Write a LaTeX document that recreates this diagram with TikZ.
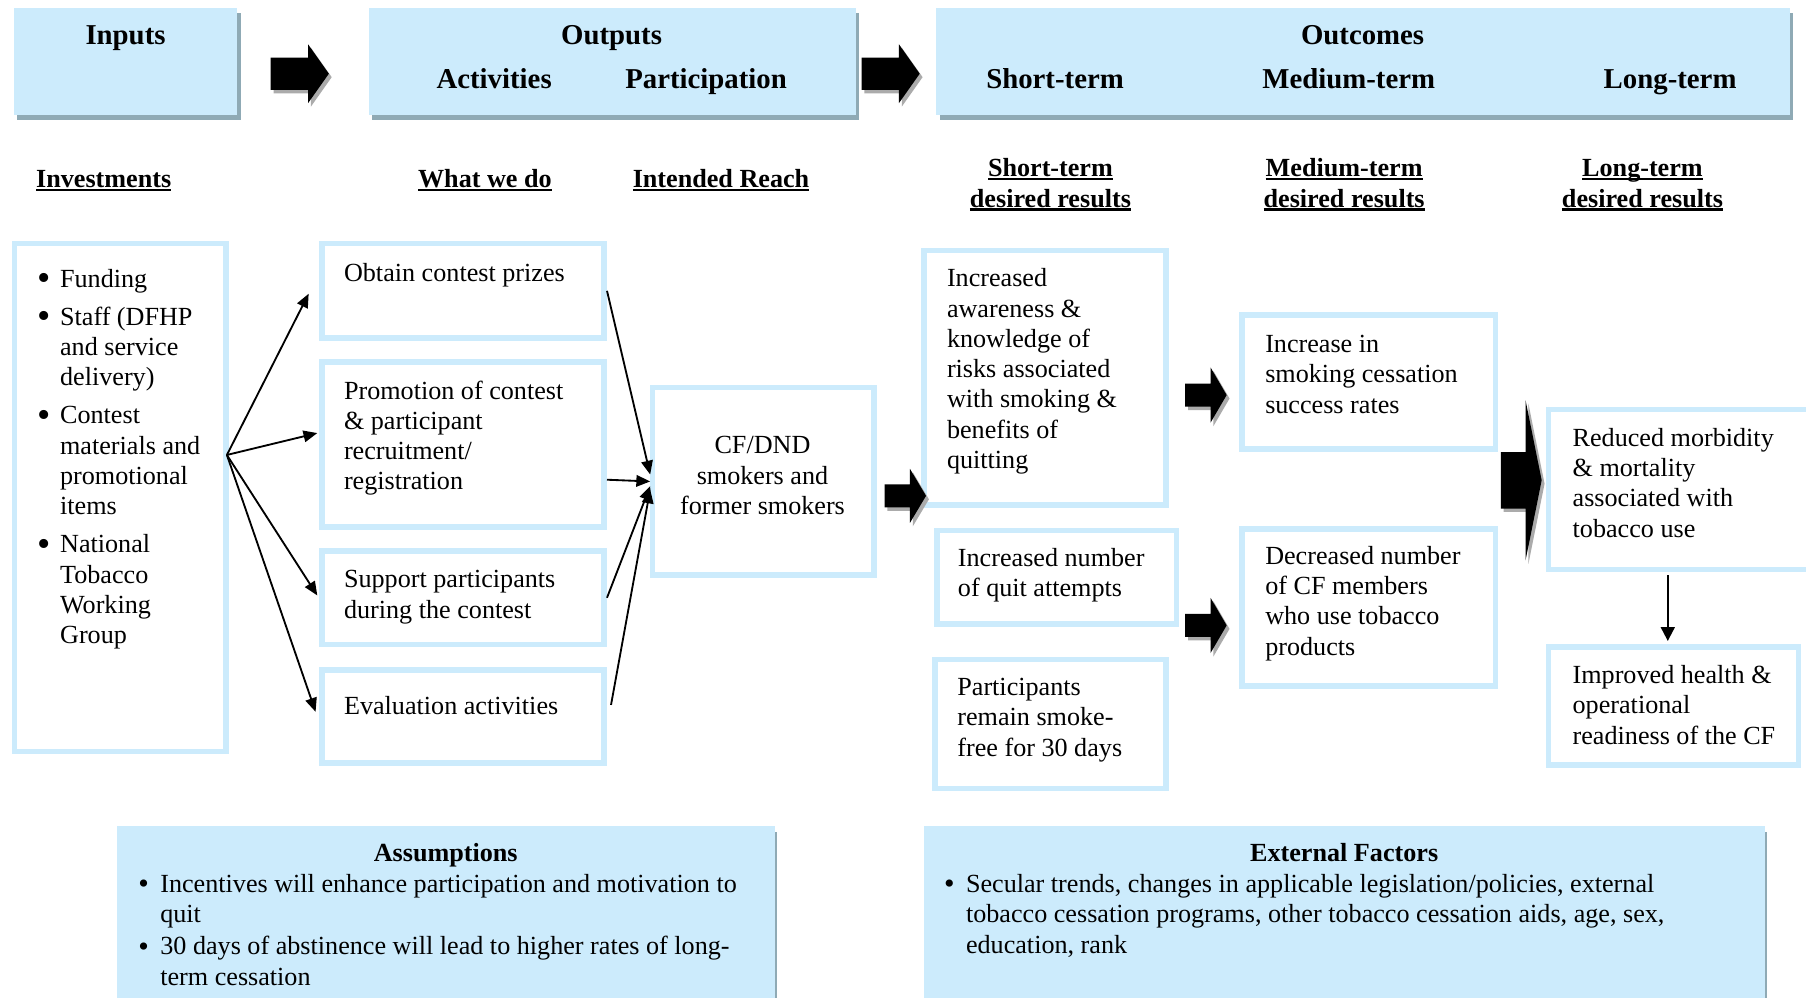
\documentclass[tikz,border=0pt]{standalone}
\usepackage{fontspec}
\setmainfont{Liberation Serif}
\usetikzlibrary{arrows.meta,calc}

\definecolor{paleblue}{HTML}{CCEBFC}
\definecolor{hdrshadow}{HTML}{8FAAB5}
\definecolor{arrowshadow}{HTML}{ABABAB}

\newcommand\bodysize{\fontsize{22.7}{26.3}\selectfont}
\newcommand\headsize{\fontsize{25}{29}\selectfont\bfseries}
% stacked lines, baseline at the first line
\newcommand\rowsl[1]{\begin{tabular}[t]{@{}l@{}}#1\end{tabular}}
\newcommand\rowsc[1]{\begin{tabular}[t]{@{}c@{}}#1\end{tabular}}
% heavy underline for the column headings
\newcommand\ulined[1]{\begingroup\setbox0=\hbox{#1}\rlap{\rule[-3pt]{\wd0}{1.8pt}}\box0\endgroup}
% bullet column: width, scale, lowering
\newcommand\bul[3]{\makebox[#1][l]{\raisebox{#3}{\scalebox{#2}{\textbullet}}}}

% white box with a thick pale-blue frame: name, x1, y1, x2, y2 (outer edges)
\newcommand\whitebox[5]{\node[wbox,minimum width={#4-#2-5},minimum height={#5-#3-5}] (#1) at ({(#2+#4)/2},{(#3+#5)/2}) {};}
% pale-blue filled box with offset shadow: name, x1, y1, x2, y2, dx, dy
\newcommand\bluebox[7]{%
  \fill[hdrshadow] ({#2+#6},{#3+#7}) rectangle ({#4+#6},{#5+#7});
  \node[headerbox,minimum width={#4-#2},minimum height={#5-#3}] (#1) at ({(#2+#4)/2},{(#3+#5)/2}) {};}
% black block arrow: tail x, centre y, head base x, tip x, half shaft, half head
\newcommand\blockarrow[6]{%
  \fill[arrowshadow,shift={(2.5,3)}] (#1,{#2-#5}) -- (#3,{#2-#5}) -- (#3,{#2-#6}) -- (#4,#2)
     -- (#3,{#2+#6}) -- (#3,{#2+#5}) -- (#1,{#2+#5}) -- cycle;
  \fill[black] (#1,{#2-#5}) -- (#3,{#2-#5}) -- (#3,{#2-#6}) -- (#4,#2)
     -- (#3,{#2+#6}) -- (#3,{#2+#5}) -- (#1,{#2+#5}) -- cycle;}

\begin{document}
\begin{tikzpicture}[x=1pt,y=-1pt,
  wbox/.style={draw=paleblue,line width=5pt,fill=white,inner sep=0pt},
  headerbox/.style={fill=paleblue,inner sep=0pt},
  txt/.style={inner sep=0pt,anchor=base west,font=\bodysize},
  ctxt/.style={inner sep=0pt,anchor=base,font=\bodysize},
  htxt/.style={inner sep=0pt,anchor=base,font=\headsize},
  subt/.style={inner sep=0pt,anchor=base,font=\bodysize\bfseries},
  conn/.style={line width=1.6pt,-{Triangle[length=12pt,width=10pt]}},
  downconn/.style={line width=1.7pt,-{Triangle[length=12pt,width=12pt]}},
]
\useasboundingbox (0,0) rectangle (1568,866);
\clip (0,0) rectangle (1568,866);
\fill[white] (0,0) rectangle (1568,866);

% ---------- header bar ----------
\bluebox{inputsh}{12}{7}{206}{100}{3}{4}
\bluebox{outputsh}{320}{7}{743}{100}{3}{4}
\bluebox{outcomesh}{813}{7}{1554}{100}{3}{4}

\node[htxt] (inputs-lbl) at (109,39) {Inputs};
\node[htxt] (outputs-lbl) at (531,39) {Outputs};
\node[htxt] (activities-lbl) at (429,76.5) {Activities};
\node[htxt] (participation-lbl) at (613,76.5) {Participation};
\node[htxt] (outcomes-lbl) at (1183,39) {Outcomes};
\node[htxt] (short-lbl) at (916,76.5) {Short-term};
\node[htxt] (medium-lbl) at (1171,76.5) {Medium-term};
\node[htxt] (long-lbl) at (1450,76.5) {Long-term};

\blockarrow{235}{64}{267.5}{285.5}{14}{25.5}
\blockarrow{748}{64}{780.5}{798.5}{14}{25.5}

% ---------- column headings ----------
\node[subt] (invest-h) at (90,163) {\ulined{Investments}};
\node[subt] (whatwedo-h) at (421,163) {\ulined{What we do}};
\node[subt] (reach-h) at (626,163) {\ulined{Intended Reach}};
\node[subt] (short-h) at (912,153.5) {\rowsc{\ulined{Short-term}\\\ulined{desired results}}};
\node[subt] (medium-h) at (1167,153.5) {\rowsc{\ulined{Medium-term}\\\ulined{desired results}}};
\node[subt] (long-h) at (1426,153.5) {\rowsc{\ulined{Long-term}\\\ulined{desired results}}};

% ---------- boxes ----------
\whitebox{inputs}{10}{209}{199}{655}
\whitebox{prizes}{277}{209}{527}{296}
\whitebox{promo}{277}{312}{527}{460}
\whitebox{support}{277}{476}{527}{562}
\whitebox{eval}{277}{579}{527}{665}
\whitebox{cf}{564}{334}{761}{502}
\whitebox{aware}{800}{215}{1015}{441}
\whitebox{quit}{811}{458}{1024}{544}
\whitebox{partic}{809}{570}{1015}{687}
\whitebox{increase}{1076}{271}{1301}{392}
\whitebox{decreased}{1076}{457}{1301}{598}
\whitebox{reduced}{1342}{353}{1576}{497}
\whitebox{improved}{1342}{559}{1564}{667}

% ---------- box texts ----------
\node[txt] (inputs-t) at (32.2,249.5) {\begin{tabular}[t]{@{}l@{}l@{}}
\bul{19.8pt}{1.45}{-3pt} & Funding\\[6.7pt]
\bul{19.8pt}{1.45}{-3pt} & Staff (DFHP\\
 & and service\\
 & delivery)\\[6.7pt]
\bul{19.8pt}{1.45}{-3pt} & Contest\\
 & materials and\\
 & promotional\\
 & items\\[6.7pt]
\bul{19.8pt}{1.45}{-3pt} & National\\
 & Tobacco\\
 & Working\\
 & Group
\end{tabular}};

\node[txt] (prizes-t) at (298.5,244.5) {Obtain contest prizes};
\node[txt] (promo-t) at (298.5,346.5) {\rowsl{Promotion of contest\\\& participant\\recruitment/\\registration}};
\node[txt] (support-t) at (298.5,510.5) {\rowsl{Support participants\\during the contest}};
\node[txt] (eval-t) at (298.5,620.5) {Evaluation activities};
\node[ctxt] (cf-t) at (662,394) {\rowsc{CF/DND\\smokers and\\former smokers}};
\node[txt] (aware-t) at (822,249) {\rowsl{Increased\\awareness \&\\knowledge of\\risks associated\\with smoking \&\\benefits of\\quitting}};
\node[txt] (quit-t) at (831.5,492) {\rowsl{Increased number\\of quit attempts}};
\node[txt] (partic-t) at (831,604) {\rowsl{Participants\\remain smoke-\\free for 30 days}};
\node[txt] (increase-t) at (1098.3,306) {\rowsl{Increase in\\smoking cessation\\success rates}};
\node[txt] (decreased-t) at (1098.3,490) {\rowsl{Decreased number\\of CF members\\who use tobacco\\products}};
\node[txt] (reduced-t) at (1365.2,387.5) {\rowsl{Reduced morbidity\\\& mortality\\associated with\\tobacco use}};
\node[txt] (improved-t) at (1365.2,593.5) {\rowsl{Improved health \&\\operational\\readiness of the CF}};

% ---------- connectors ----------
\coordinate (fan) at (197,395);
\draw[conn] (fan) -- ($(prizes.west)+(-9,2.5)$);
\draw[conn] (fan) -- ($(promo.west)+(-1.5,-10)$);
\draw[conn] (fan) -- ($(support.west)+(-1.5,-2)$);
\draw[conn] (fan) -- ($(eval.west)+(-3,-4)$);

\draw[conn] (prizes.east) -- ($(cf.west)+(0.5,-6)$);
\draw[conn] ($(promo.east)+(0,30.5)$) -- ($(cf.west)+(0.5,0)$);
\draw[conn] (support.east) -- ($(cf.west)+(0.5,4)$);
\draw[conn] ($(eval.east)+(3.5,-10)$) -- ($(cf.west)+(0.5,7)$);

\blockarrow{768}{430.5}{790}{804}{10}{23.5}
\blockarrow{1029}{343}{1051}{1065}{10}{24}
\blockarrow{1029}{543}{1051}{1065}{10}{24}
\blockarrow{1303}{417}{1324.5}{1338.5}{24.5}{69.5}

\coordinate (downx) at (1448,0);
\draw[downconn,shorten <=2.5pt,shorten >=2.5pt] (reduced.south -| downx) -- (improved.north -| downx);

% ---------- assumptions and external factors ----------
\bluebox{assump}{102}{717}{673}{890}{2}{5}
\bluebox{extern}{802}{717}{1532}{890}{2}{5}

\node[subt] (assump-h) at (387,748) {Assumptions};
\node[txt] (assump-t) at (120,775) {\begin{tabular}[t]{@{}l@{}l@{}}
\bul{19pt}{1.15}{-1pt} & Incentives will enhance participation and motivation to\\
 & quit\\[1.5pt]
\bul{19pt}{1.15}{-1pt} & 30 days of abstinence will lead to higher rates of long-\\
 & term cessation
\end{tabular}};

\node[subt] (extern-h) at (1167,748) {External Factors};
\node[txt] (extern-t) at (819.5,775) {\begin{tabular}[t]{@{}l@{}l@{}}
\bul{19pt}{1.15}{-1pt} & Secular trends, changes in applicable legislation/policies, external\\
 & tobacco cessation programs, other tobacco cessation aids, age, sex,\\
 & education, rank
\end{tabular}};
\end{tikzpicture}
\end{document}
